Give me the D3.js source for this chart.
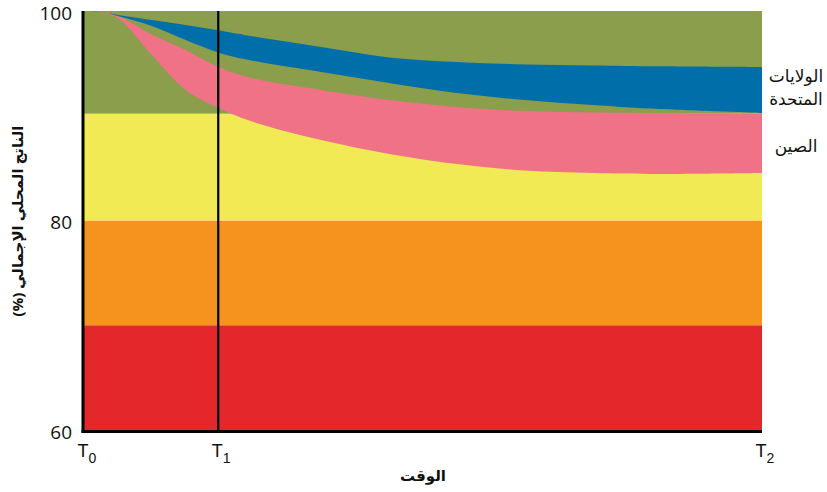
<!DOCTYPE html>
<html>
<head>
<meta charset="utf-8">
<script src="https://cdn.jsdelivr.net/npm/d3@7"></script>
<style>
  body { margin: 0; background: #fff; }
  svg { display: block; font-family: "Open Sans", "DejaVu Sans", sans-serif; }
</style>
</head>
<body>
<svg id="chart" width="827" height="492"></svg>
<script>
// ---- data ----
const timePoints = [0, 2.5, 5, 10, 15, 20, 25, 35, 45, 55, 65, 75, 85, 100];
const usUpper    = [100, 99.92, 99.62, 99.14, 98.66, 98.14, 97.57, 96.56, 95.56, 95.13, 94.89, 94.80, 94.72, 94.65];
const usLower    = [100, 99.95, 99.52, 98.57, 97.23, 95.99, 95.23, 94.18, 93.13, 92.17, 91.50, 91.03, 90.64, 90.26];
const chinaUpper = [100, 99.90, 99.52, 97.76, 96.28, 94.61, 93.56, 92.46, 91.50, 90.84, 90.45, 90.31, 90.26, 90.21];
const chinaLower = [100, 99.86, 99.33, 95.80, 92.46, 90.69, 89.40, 87.68, 86.35, 85.39, 84.77, 84.53, 84.44, 84.53];

const bandLow  = [60, 70, 80, 90.2];
const bandHigh = [70, 80, 90.2, 100];
const bandColors = ["#e4272b", "#f6931f", "#f2ea55", "#8a9e4b"];

const yTicks = [60, 80, 100];
const xTickValues = [0, 19.8, 100];
const xTickSubs = ["0", "1", "2"];

const seriesNames = ["الولايات المتحدة", "الصين"];
const xTitle = "الوقت";
const yTitle = "الناتج المحلي الإجمالي (%)";

// ---- layout ----
const svg = d3.select("#chart");
const x = d3.scaleLinear().domain([0, 100]).range([84, 762]);
const y = d3.scaleLinear().domain([60, 100]).range([430, 11]);

// bands
svg.append("g").selectAll("rect").data(bandLow).join("rect")
  .attr("x", x(0)).attr("width", x(100) - x(0))
  .attr("y", (d, i) => y(bandHigh[i]))
  .attr("height", (d, i) => y(bandLow[i]) - y(bandHigh[i]))
  .attr("fill", (d, i) => bandColors[i]);

// areas
const mk = (up, lo) => timePoints.map((t, i) => ({ t, up: up[i], lo: lo[i] }));
const area = d3.area()
  .x(d => x(d.t)).y0(d => y(d.lo)).y1(d => y(d.up))
  .curve(d3.curveCatmullRom.alpha(0.5));

svg.append("path").datum(mk(chinaUpper, chinaLower)).attr("d", area).attr("fill", "#f07286");
svg.append("path").datum(mk(usUpper, usLower)).attr("d", area).attr("fill", "#006ea8");

// T1 vertical line
svg.append("line")
  .attr("x1", x(xTickValues[1])).attr("x2", x(xTickValues[1]))
  .attr("y1", y(100)).attr("y2", y(60))
  .attr("stroke", "#000").attr("stroke-width", 2.2);

// axes lines
svg.append("line").attr("x1", x(0) - 1).attr("x2", x(0) - 1)
  .attr("y1", y(100)).attr("y2", y(60) + 3)
  .attr("stroke", "#000").attr("stroke-width", 3);
svg.append("line").attr("x1", x(0) - 2.5).attr("x2", x(100))
  .attr("y1", y(60) + 1.5).attr("y2", y(60) + 1.5)
  .attr("stroke", "#000").attr("stroke-width", 3);

// y axis labels
const yAxis = d3.axisLeft(y).tickValues(yTicks).tickSize(0).tickPadding(12).tickFormat(d3.format("d"));
const gy = svg.append("g").attr("transform", `translate(${x(0)},2)`).call(yAxis);
gy.select(".domain").remove();
gy.selectAll("text").attr("font-size", 19).attr("fill", "#111").attr("font-family", "\"Open Sans\", sans-serif");

// x axis labels with subscripts
const xAxis = d3.axisBottom(x).tickValues(xTickValues).tickSize(0).tickFormat(() => "");
const gx = svg.append("g").attr("transform", `translate(0,${y(60)})`).call(xAxis);
gx.select(".domain").remove();
gx.selectAll(".tick text").remove();
gx.selectAll(".tick").append("text")
  .attr("x", -7).attr("y", 27)
  .attr("text-anchor", "start")
  .attr("fill", "#111")
  .attr("font-size", 18)
  .each(function (d, i) {
    const t = d3.select(this);
    t.append("tspan").text("T");
    t.append("tspan").attr("font-size", 14).attr("dy", 6).text(xTickSubs[i]);
  });

// axis titles
svg.append("text")
  .attr("x", (x(0) + x(100)) / 2).attr("y", 481)
  .attr("text-anchor", "middle").attr("font-weight", "bold").attr("font-size", 15)
  .attr("fill", "#111").attr("direction", "rtl")
  .text(xTitle);

svg.append("text")
  .attr("transform", "translate(23,221) rotate(-90)")
  .attr("text-anchor", "middle").attr("font-weight", "bold").attr("font-size", 15)
  .attr("fill", "#111").attr("direction", "rtl").attr("unicode-bidi", "embed")
  .text(yTitle);

// series labels
const usWords = seriesNames[0].split(" ");
svg.append("text").attr("x", 796).attr("y", 82).attr("text-anchor", "middle")
  .attr("font-size", 17).attr("fill", "#111").text(usWords[0]);
svg.append("text").attr("x", 796).attr("y", 105).attr("text-anchor", "middle")
  .attr("font-size", 17).attr("fill", "#111").text(usWords[1]);
svg.append("text").attr("x", 796).attr("y", 152).attr("text-anchor", "middle")
  .attr("font-size", 17).attr("fill", "#111").text(seriesNames[1]);
</script>
</body>
</html>
